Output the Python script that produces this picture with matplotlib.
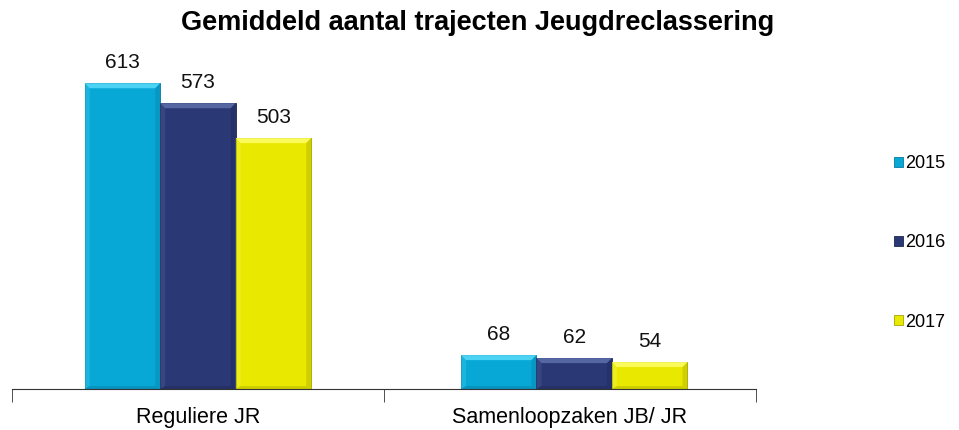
import matplotlib
matplotlib.use("Agg")
import matplotlib.pyplot as plt
from matplotlib.patches import Polygon
import numpy as np

categories = ["Reguliere JR", "Samenloopzaken JB/ JR"]
years = ["2015", "2016", "2017"]
values_2015 = [613, 68]
values_2016 = [573, 62]
values_2017 = [503, 54]
series = [values_2015, values_2016, values_2017]
colors = ["#08A8D6", "#2B3876", "#E8E800"]
light_colors = ["#4CD2F2", "#5566A2", "#FAFA5A"]
dark_colors = ["#067A9E", "#1C264F", "#A6A600"]

plt.rcParams['font.family'] = ['Liberation Sans', 'DejaVu Sans']

fig = plt.figure(figsize=(9.59, 4.3), dpi=100)
ax = fig.add_axes([0.0125, 0.0953, 0.7755, 0.812])
ax.set_xlim(-0.5, 1.5)
ax.set_ylim(0, 700)

x = np.arange(len(categories)) + np.array([0.0, 0.012])
bw = 0.203
# bevel size in data units (approx 5 px)
bev_y = 700 * 5 / (0.812 * 430)
bev_x = 2.0 * 5 / (0.7755 * 959)
for i, (vals, c, lc, dc) in enumerate(zip(series, colors, light_colors, dark_colors)):
    offs = (i - 1) * bw
    bars = ax.bar(x + offs, vals, width=bw, color=c, edgecolor=dc, linewidth=0.6,
                  label=years[i], zorder=2)
    for b, v in zip(bars, vals):
        x0 = b.get_x(); x1 = x0 + b.get_width(); h = b.get_height()
        ax.add_patch(Polygon([[x0, h], [x1, h], [x1 - bev_x, h - bev_y], [x0 + bev_x, h - bev_y]],
                             closed=True, facecolor=lc, edgecolor='none', zorder=3))
        ax.add_patch(Polygon([[x1, h], [x1, 0], [x1 - bev_x, bev_y * 0.6], [x1 - bev_x, h - bev_y]],
                             closed=True, facecolor=dc, edgecolor='none', alpha=0.35, zorder=3))
        ax.add_patch(Polygon([[x0, h], [x0, 0], [x0 + bev_x, bev_y * 0.6], [x0 + bev_x, h - bev_y]],
                             closed=True, facecolor=lc, edgecolor='none', alpha=0.3, zorder=3))
        ax.add_patch(Polygon([[x0, 0], [x1, 0], [x1 - bev_x, bev_y * 0.6], [x0 + bev_x, bev_y * 0.6]],
                             closed=True, facecolor=dc, edgecolor='none', alpha=0.4, zorder=3))
        ax.text((x0 + x1) / 2, v + 22, str(v), ha='center', va='bottom',
                fontsize=15, color='#111111')

for s in ['top', 'right', 'left']:
    ax.spines[s].set_visible(False)
ax.spines['bottom'].set_color('#333333')
ax.spines['bottom'].set_zorder(4)
ax.set_yticks([])
ax.set_xticks(np.arange(len(categories)))
ax.set_xticklabels(categories, fontsize=15.5)
ax.tick_params(axis='x', which='major', length=0, pad=13)
ax.set_xticks([-0.5, 0.5, 1.5], minor=True)
ax.tick_params(axis='x', which='minor', length=9, color='#333333', direction='out')

fig.text(0.498, 0.9465, "Gemiddeld aantal trajecten Jeugdreclassering",
         ha='center', va='center', fontsize=19.5, fontweight='bold')

leg = ax.legend(loc='center left', bbox_to_anchor=(0.932, 0.435), bbox_transform=fig.transFigure,
                frameon=False, fontsize=13, handlelength=0.5, handleheight=0.5,
                handletextpad=0.15, labelspacing=3.45, borderaxespad=0, borderpad=0)

fig.savefig("out.png", dpi=100)
